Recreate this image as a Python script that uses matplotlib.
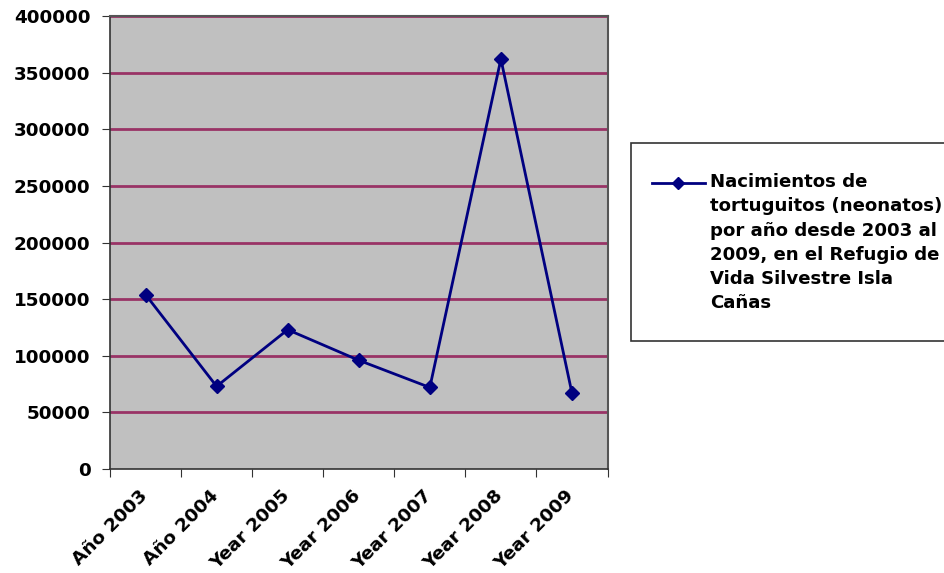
import matplotlib
matplotlib.use("Agg")
import matplotlib.pyplot as plt
from matplotlib.patches import Rectangle
from matplotlib.lines import Line2D
from matplotlib.transforms import ScaledTranslation

categories = ["Año 2003", "Año 2004", "Year 2005", "Year 2006",
              "Year 2007", "Year 2008", "Year 2009"]
hatchlings = [154000, 73000, 123000, 96000, 72000, 362000, 67000]
y_ticks = [0, 50000, 100000, 150000, 200000, 250000, 300000, 350000, 400000]
series_label = ("Nacimientos de\ntortuguitos (neonatos)\npor año desde 2003 al\n"
                "2009, en el Refugio de\nVida Silvestre Isla\nCañas")

plt.rcParams['font.family'] = ['DejaVu Sans']
plt.rcParams['font.weight'] = 'bold'

W, H = 945, 573
fig = plt.figure(figsize=(W / 100, H / 100), dpi=100)
ax = fig.add_axes([110 / W, 1 - 469 / H, (607.5 - 110) / W, (469 - 16) / H])
ax.set_facecolor('#C0C0C0')

x = list(range(len(categories)))
ax.plot(x, hatchlings, color='#000080', lw=2, marker='D', ms=7,
        markerfacecolor='#000080', markeredgecolor='#000080', zorder=3)

ax.set_xlim(-0.5, len(categories) - 0.5)
ax.set_ylim(0, 400000)
ax.set_yticks(y_ticks)
ax.set_yticklabels([str(v) for v in y_ticks], fontsize=13.2, fontweight='bold')
for v in y_ticks[1:]:
    ax.axhline(v, color='#993366', lw=2, zorder=1)

# category boundaries carry the tick marks, centres carry the labels
ax.set_xticks([i - 0.5 for i in range(len(categories) + 1)], minor=False)
ax.set_xticklabels([])
ax.set_xticks(x, minor=True)
ax.set_xticklabels(categories, minor=True, rotation=45, ha='right',
                   rotation_mode='anchor', fontsize=13.3, fontweight='bold')
ax.tick_params(axis='x', which='minor', length=0, pad=13)
ax.tick_params(axis='x', which='major', length=6, direction='out', color='#333333')
ax.tick_params(axis='y', length=6, direction='out', color='#333333', pad=8)
shift = ScaledTranslation(-7 / 100, 0, fig.dpi_scale_trans)
for lbl in ax.get_xticklabels(minor=True):
    lbl.set_transform(lbl.get_transform() + shift)

for side in ['left', 'bottom']:
    ax.spines[side].set_color('#333333')
    ax.spines[side].set_linewidth(1.2)
for side in ['top', 'right']:
    ax.spines[side].set_color('#555555')
    ax.spines[side].set_linewidth(1.5)

# legend box drawn in figure pixels
fig.patches.append(Rectangle((631 / W, 1 - 341 / H), (W - 631) / W + 0.01,
                             (341 - 143) / H, transform=fig.transFigure,
                             facecolor='white', edgecolor='#333333', lw=1.2))
fig.add_artist(Line2D([652 / W, 705 / W], [1 - 182.5 / H, 1 - 182.5 / H],
                      transform=fig.transFigure, color='#000080', lw=2))
fig.add_artist(Line2D([678.5 / W], [1 - 182.5 / H], transform=fig.transFigure,
                      marker='D', ms=6, color='#000080', lw=0))
fig.text(710 / W, 1 - 173 / H, series_label, ha='left', va='top',
         fontsize=13.1, fontweight='bold', linespacing=1.45)

fig.savefig('out.png', dpi=100)
